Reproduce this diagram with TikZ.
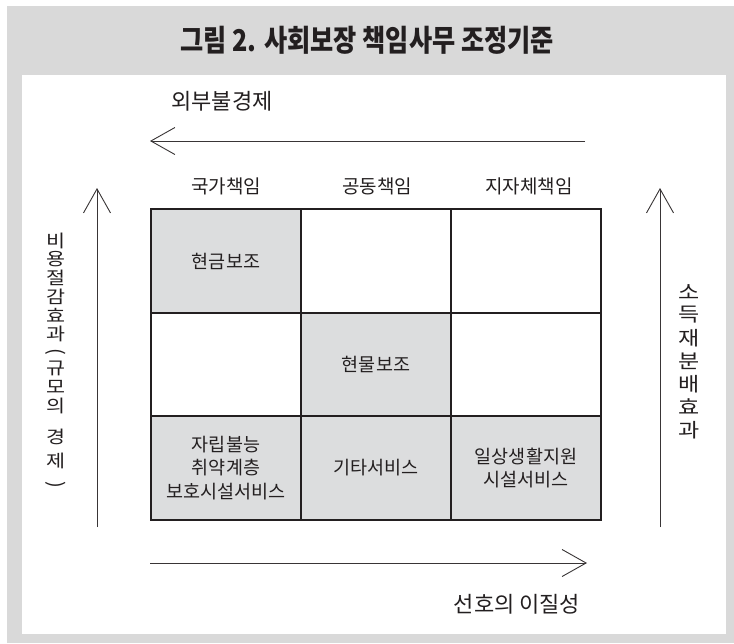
\documentclass[tikz,border=0pt]{standalone}
\usepackage{fontspec}
\setmainfont{Noto Sans CJK KR}
\newfontfamily\titlefont[FakeStretch=0.84]{Noto Sans CJK KR}
\newfontfamily\widefont[FakeStretch=1.18]{Noto Sans CJK KR}
\usetikzlibrary{arrows.meta}
\definecolor{framegray}{RGB}{217,217,217}
\definecolor{cellgray}{RGB}{220,221,222}
\definecolor{ink}{RGB}{35,31,32}
\begin{document}
\begin{tikzpicture}[x=1pt,y=-1pt,
  cell/.style={draw=ink, line width=1.2pt, minimum width=150pt, inner sep=0pt,
    align=center, text=ink, font=\fontsize{18.5}{23.3}\selectfont},
  shaded/.style={fill=cellgray},
  head/.style={text=ink, inner sep=0pt, font=\fontsize{19}{22}\selectfont},
  axislabel/.style={text=ink, inner sep=0pt, font=\fontsize{22}{25}\selectfont},
  vchar/.style={text=ink, inner sep=0pt, font=\widefont\fontsize{17.5}{19}\selectfont},
  rchar/.style={text=ink, inner sep=0pt, font=\widefont\fontsize{19.5}{21}\selectfont},
  vparen/.style={text=ink, inner sep=0pt, rotate=-90, font=\fontsize{20}{21}\selectfont},
  axisarrow/.style={draw=ink!90, line width=0.9pt,
    -{Straight Barb[length=24pt,width=27pt,line width=0.9pt]}}
]
\useasboundingbox (0,0) rectangle (734,643);
\fill[framegray] (7,6) rectangle (734,643);
\fill[white] (22,75) rectangle (726,634);
\node[text=ink, inner sep=0pt, font=\titlefont\bfseries\fontsize{30}{32}\selectfont] (title) at (367,40) {그림 2. 사회보장 책임사무 조정기준};

% top arrow and label
\node[axislabel] (ext) at (222,101) {외부불경제};
\coordinate (ta1) at (585,141);
\coordinate (ta2) at (150,141);
\draw[axisarrow] (ta1) -- (ta2);

% headers
\node[head] (h1) at (226,186) {국가책임};
\node[head] (h2) at (377,186) {공동책임};
\node[head] (h3) at (529,186) {지자체책임};

% grid
\node[cell, shaded, minimum height=104pt] (c11) at (226,261) {현금보조};
\node[cell, minimum height=104pt] (c12) at (376,261) {};
\node[cell, minimum height=104pt] (c13) at (526,261) {};
\node[cell, minimum height=103pt] (c21) at (226,364.5) {};
\node[cell, shaded, minimum height=103pt] (c22) at (376,364.5) {현물보조};
\node[cell, minimum height=103pt] (c23) at (526,364.5) {};
\node[cell, shaded, minimum height=104pt] (c31) at (226,468) {자립불능\\취약계층\\보호시설서비스};
\node[cell, shaded, minimum height=104pt] (c32) at (376,468) {기타서비스};
\node[cell, shaded, minimum height=104pt] (c33) at (526,468) {일상생활지원\\시설서비스};

% left arrow and vertical text
\coordinate (la1) at (97,527);
\coordinate (la2) at (97,188);
\draw[axisarrow] (la1) -- (la2);
\node[vchar] (l1) at (56,241) {비};
\node[vchar] (l2) at (56,259.5) {용};
\node[vchar] (l3) at (56,278) {절};
\node[vchar] (l4) at (56,296.5) {감};
\node[vchar] (l5) at (56,315) {효};
\node[vchar] (l6) at (56,333.5) {과};
\node[vparen] (l7) at (56,352) {(};
\node[vchar] (l8) at (56,368.5) {규};
\node[vchar] (l9) at (56,387) {모};
\node[vchar] (l10) at (56,405.5) {의};
\node[vchar] (l11) at (56,437) {경};
\node[vchar] (l12) at (56,461) {제};
\node[vparen] (l13) at (56,485) {)};

% right arrow and vertical text
\coordinate (ra1) at (660,527);
\coordinate (ra2) at (660,188);
\draw[axisarrow] (ra1) -- (ra2);
\node[rchar] (r1) at (689,292) {소};
\node[rchar] (r2) at (689,315) {득};
\node[rchar] (r3) at (689,338) {재};
\node[rchar] (r4) at (689,361) {분};
\node[rchar] (r5) at (689,384) {배};
\node[rchar] (r6) at (689,407) {효};
\node[rchar] (r7) at (689,430) {과};

% bottom arrow and label
\coordinate (ba1) at (150,563);
\coordinate (ba2) at (587,563);
\draw[axisarrow] (ba1) -- (ba2);
\node[axislabel] (pref) at (517,604) {선호의 이질성};
\end{tikzpicture}
\end{document}
